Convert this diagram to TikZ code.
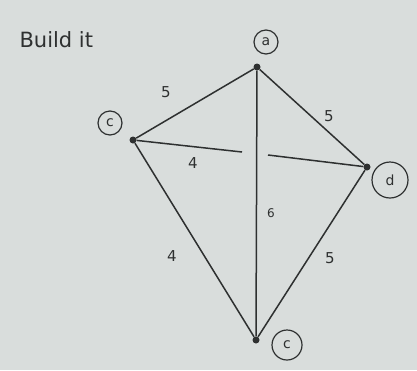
\documentclass[tikz,border=0pt]{standalone}
\usepackage{fontspec}
\setmainfont{DejaVu Sans}
\definecolor{paper}{HTML}{D9DDDC}
\definecolor{ink}{HTML}{2E3030}
\begin{document}
\begin{tikzpicture}[x=1pt,y=-1pt,
  vert/.style={circle,fill=ink,inner sep=0pt,minimum size=7pt},
  vlabel/.style={circle,draw=ink,line width=1.2pt,inner sep=1.5pt,minimum size=24pt,text=ink,font=\fontsize{14}{14}\selectfont},
  elabel/.style={text=ink,font=\fontsize{15}{15}\selectfont},
  edge/.style={draw=ink,line width=1.5pt}]
\fill[paper] (0,0) rectangle (417,370);
\useasboundingbox (0,0) rectangle (417,370);
\node[text=ink,font=\fontsize{21}{21}\selectfont,anchor=west] (title) at (16,40) {Build it};
\node[vert] (a) at (257,67) {};
\node[vert] (c1) at (133,140) {};
\node[vert] (d) at (367,167) {};
\node[vert] (c2) at (256,340) {};
\node[vlabel] (la) at (266,42) {a};
\node[vlabel] (lc1) at (110,123) {c};
\node[vlabel,minimum size=36pt] (ld) at (390,180) {d};
\node[vlabel,minimum size=30pt] (lc2) at (287,345) {c};
\coordinate (gap1) at (242,152);
\coordinate (gap2) at (268,155);
\path[edge] (a) -- (c1);
\path[edge] (a) -- (d);
\path[edge] (a) -- (c2);
\path[edge] (c1) -- (c2);
\path[edge] (d) -- (c2);
\path[edge] (c1) -- (gap1);
\path[edge] (gap2) -- (d);
\node[elabel] (w1) at (166,92) {5};
\node[elabel] (w2) at (329,116) {5};
\node[elabel] (w3) at (193,163) {4};
\node[elabel,font=\fontsize{12}{12}\selectfont] (w4) at (271,213) {6};
\node[elabel] (w5) at (172,256) {4};
\node[elabel] (w6) at (330,258) {5};
\end{tikzpicture}
\end{document}
